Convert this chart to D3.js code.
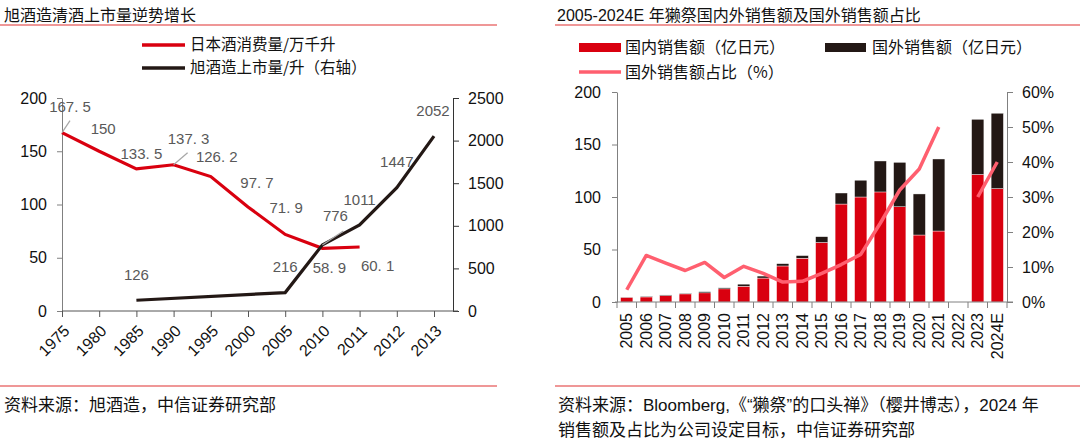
<!DOCTYPE html>
<html>
<head>
<meta charset="utf-8">
<script src="https://cdn.jsdelivr.net/npm/d3@7"></script>
<style>
	body { margin: 0; background: #fff; }
	svg { font-family: "Liberation Sans", "Noto Sans CJK SC", sans-serif; }
	.cjk { font-family: "Noto Sans CJK SC", sans-serif; }
</style>
</head>
<body>
<script>
// Left chart: 旭酒造
var years = ["1975", "1980", "1985", "1990", "1995", "2000", "2005", "2010", "2011", "2012", "2013"];
var consumption = [167.5, 150, 133.5, 137.3, 126.2, 97.7, 71.9, 58.9, 60.1, null, null];   //万千升
var shipments = [null, null, 126, null, null, null, 216, 776, 1011, 1447, 2052];           //升 (right axis)
var leftTicks = [0, 50, 100, 150, 200];
var rightTicks = [0, 500, 1000, 1500, 2000, 2500];

// Right chart: 獭祭
var salesYears = ["2005", "2006", "2007", "2008", "2009", "2010", "2011", "2012", "2013", "2014",
                  "2015", "2016", "2017", "2018", "2019", "2020", "2021", "2022", "2023", "2024E"];
var domestic = [4.5, 4.8, 6.1, 7.7, 8.7, 12.5, 15, 22.8, 34.3, 41.7, 56.7, 93.3, 100, 104.8, 90.7, 63.8, 67.6, null, 121.5, 108];
var overseas = [0.2, 0.7, 0.6, 0.7, 1.1, 1.0, 2.0, 1.9, 2.2, 2.5, 5.5, 10.5, 16, 29.5, 42.3, 39.1, 68.6, null, 52.5, 71.8];
var overseasShare = [3.5, 13.3, 11.1, 9.0, 11.3, 7.0, 10.2, 8.2, 5.7, 5.9, 8.2, 10.7, 13.6, 22.5, 32, 38, 50, null, 30, 40];
var salesTicks = [0, 50, 100, 150, 200];
var shareTicks = [0, 10, 20, 30, 40, 50, 60];

// label nudges (dx, dy from the point)
var consumptionNudge = [[8, -21], [4, -17], [5, -10], [15, -21], [6, -15], [9, -19], [1, -21], [7, 25], [18, 24]];
var shipmentNudge = [[0, -20], [0, -21], [13, -24], [0, -20], [0, -21], [-1, -20]];

// Settings
var w = 1080;
var h = 445;
var red = "#d9000f";
var dark = "#231815";
var pink = "#ff5f6f";
var grey = "#808080";

var svg = d3.select("body")
			.append("svg")
			.attr("width", w)
			.attr("height", h);

// ---------- frame: titles, rules, sources ----------
svg.append("text").attr("class", "cjk").attr("x", 4).attr("y", 15).attr("dy", "0.35em")
	.style("font-size", "16px").attr("fill", "#111").text("旭酒造清酒上市量逆势增长");
svg.append("text").attr("x", 557).attr("y", 15).attr("dy", "0.35em")
	.style("font-size", "16px").attr("fill", "#111").text("2005-2024E 年獭祭国内外销售额及国外销售额占比");

[[0, 497, 25], [555, 1080, 25], [0, 497, 386], [555, 1080, 386]].forEach(function(r) {
	svg.append("line").attr("x1", r[0]).attr("x2", r[1]).attr("y1", r[2]).attr("y2", r[2])
		.attr("stroke", "#e03030").attr("stroke-width", 1.2);
});

svg.append("text").attr("class", "cjk").attr("x", 4).attr("y", 405).attr("dy", "0.35em")
	.style("font-size", "17px").attr("fill", "#111").text("资料来源：旭酒造，中信证券研究部");
svg.append("text").attr("x", 558).attr("y", 405).attr("dy", "0.35em")
	.style("font-size", "17px").attr("fill", "#111").text("资料来源：Bloomberg,《“獭祭”的口头禅》（樱井博志），2024 年");
svg.append("text").attr("class", "cjk").attr("x", 558).attr("y", 430).attr("dy", "0.35em")
	.style("font-size", "17px").attr("fill", "#111").text("销售额及占比为公司设定目标，中信证券研究部");

// ---------- LEFT CHART ----------
var xL = d3.scalePoint().domain(years).range([62, 434]);
var yL = d3.scaleLinear().domain([0, 200]).range([311, 98]);
var yR = d3.scaleLinear().domain([0, 2500]).range([311, 98]);

//Legend
var legL = svg.append("g");
[[red, "日本酒消费量/万千升", 45], [dark, "旭酒造上市量/升（右轴）", 68]].forEach(function(d) {
	legL.append("line").attr("x1", 142).attr("x2", 185).attr("y1", d[2]).attr("y2", d[2])
		.attr("stroke", d[0]).attr("stroke-width", 3.5);
	legL.append("text").attr("class", "cjk").attr("x", 190).attr("y", d[2]).attr("dy", "0.35em")
		.style("font-size", "15.5px").attr("fill", "#111").text(d[1]);
});

//Axes
var axL = svg.append("g").attr("transform", "translate(62,0)")
	.call(d3.axisLeft(yL).tickValues(leftTicks).tickSize(5).tickSizeOuter(0).tickPadding(10));
axL.select(".domain").attr("stroke", grey);
axL.selectAll("line").attr("stroke", grey);
axL.selectAll("text").style("font-size", "16px").attr("fill", "#111");

var axR = svg.append("g").attr("transform", "translate(453,0)")
	.call(d3.axisRight(yR).tickValues(rightTicks).tickSize(6).tickSizeOuter(0).tickPadding(9)
		.tickFormat(d3.format("d")));
axR.select(".domain").attr("stroke", "#333");
axR.selectAll("line").attr("stroke", "#333");
axR.selectAll("text").style("font-size", "16px").attr("fill", "#111");

var axX = svg.append("g").attr("transform", "translate(0,311)")
	.call(d3.axisBottom(xL).tickSize(6).tickSizeOuter(0));
axX.select(".domain").remove();
axX.append("line").attr("x1", xL(years[0])).attr("x2", 458).attr("stroke", "#555");
axX.selectAll(".tick line").attr("stroke", "#555");
axX.selectAll(".tick text")
	.attr("x", 0).attr("y", 0).attr("dy", "0.35em")
	.attr("text-anchor", "end")
	.attr("transform", "translate(4,17) rotate(-45)")
	.style("font-size", "16px").attr("fill", "#111");

//Lines (gaps are bridged, like the source)
var redPts = years.map(function(y, i) { return {year: y, v: consumption[i]}; })
	.filter(function(d) { return d.v !== null; });
var blackPts = years.map(function(y, i) { return {year: y, v: shipments[i]}; })
	.filter(function(d) { return d.v !== null; });

svg.append("path").datum(redPts)
	.attr("fill", "none").attr("stroke", red).attr("stroke-width", 3.2)
	.attr("d", d3.line().x(function(d) { return xL(d.year); }).y(function(d) { return yL(d.v); }));
svg.append("path").datum(blackPts)
	.attr("fill", "none").attr("stroke", dark).attr("stroke-width", 3.2)
	.attr("d", d3.line().x(function(d) { return xL(d.year); }).y(function(d) { return yR(d.v); }));

//Leader lines
var leaders = [
	[xL("1975"), yL(167.5), 8, -12],
	[xL("1990"), yL(137.3), 14, -12],
	[xL("2010"), yR(776), 21, -14]
];
leaders.forEach(function(l) {
	svg.append("line").attr("x1", l[0]).attr("y1", l[1]).attr("x2", l[0] + l[2]).attr("y2", l[1] + l[3])
		.attr("stroke", "#a6a6a6").attr("stroke-width", 1.2);
});

//Data labels
var fmt = function(v) { return String(v).replace(".", ". "); };
svg.selectAll(".lblRed").data(redPts).enter().append("text")
	.attr("x", function(d, i) { return xL(d.year) + consumptionNudge[i][0]; })
	.attr("y", function(d, i) { return yL(d.v) + consumptionNudge[i][1]; })
	.attr("text-anchor", "middle").style("font-size", "15px").attr("fill", "#595959")
	.text(function(d) { return fmt(d.v); });
svg.selectAll(".lblBlack").data(blackPts).enter().append("text")
	.attr("x", function(d, i) { return xL(d.year) + shipmentNudge[i][0]; })
	.attr("y", function(d, i) { return yR(d.v) + shipmentNudge[i][1]; })
	.attr("text-anchor", "middle").style("font-size", "15px").attr("fill", "#595959")
	.text(function(d) { return d.v; });

// ---------- RIGHT CHART ----------
var xB = d3.scaleBand().domain(salesYears).range([617, 1007]).paddingInner(0.37).paddingOuter(0.185);
var yS = d3.scaleLinear().domain([0, 200]).range([302, 92]);
var yP = d3.scaleLinear().domain([0, 60]).range([302, 92]);

//Legend
var legR = svg.append("g");
legR.append("rect").attr("x", 579).attr("y", 43).attr("width", 42).attr("height", 9).attr("fill", red);
legR.append("text").attr("class", "cjk").attr("x", 625).attr("y", 47).attr("dy", "0.35em")
	.style("font-size", "16px").attr("fill", "#111").text("国内销售额（亿日元）");
legR.append("rect").attr("x", 825).attr("y", 43).attr("width", 41).attr("height", 9).attr("fill", dark);
legR.append("text").attr("class", "cjk").attr("x", 872).attr("y", 47).attr("dy", "0.35em")
	.style("font-size", "16px").attr("fill", "#111").text("国外销售额（亿日元）");
legR.append("line").attr("x1", 579).attr("x2", 621).attr("y1", 72).attr("y2", 72)
	.attr("stroke", pink).attr("stroke-width", 3.5);
legR.append("text").attr("class", "cjk").attr("x", 625).attr("y", 72).attr("dy", "0.35em")
	.style("font-size", "16px").attr("fill", "#111").text("国外销售额占比（%）");

//Stacked data
var salesRows = salesYears.map(function(y, i) {
	return {year: y, domestic: domestic[i] || 0, overseas: overseas[i] || 0};
});
var series = d3.stack().keys(["domestic", "overseas"])(salesRows);
var barColor = {domestic: red, overseas: dark};

svg.append("g").selectAll("g")
	.data(series)
	.enter()
	.append("g")
	.attr("fill", function(d) { return barColor[d.key]; })
	.selectAll("rect")
	.data(function(d) { return d; })
	.enter()
	.append("rect")
	.attr("x", function(d) { return xB(d.data.year); })
	.attr("width", xB.bandwidth())
	.attr("y", function(d) { return yS(d[1]); })
	.attr("height", function(d) { return yS(d[0]) - yS(d[1]); })
	.attr("stroke", "#fff").attr("stroke-width", 0.4);

//Share line, broken at 2022
svg.append("path").datum(salesYears)
	.attr("fill", "none").attr("stroke", pink).attr("stroke-width", 3.5).attr("stroke-linejoin", "round")
	.attr("d", d3.line()
		.defined(function(d, i) { return overseasShare[i] !== null; })
		.x(function(d) { return xB(d) + xB.bandwidth() / 2; })
		.y(function(d, i) { return yP(overseasShare[i]); }));

//Axes
var axS = svg.append("g").attr("transform", "translate(617,0)")
	.call(d3.axisLeft(yS).tickValues(salesTicks).tickSize(5).tickSizeOuter(0).tickPadding(11));
axS.select(".domain").attr("stroke", grey);
axS.selectAll("line").attr("stroke", grey);
axS.selectAll("text").style("font-size", "16px").attr("fill", "#111");

var axP = svg.append("g").attr("transform", "translate(1007,0)")
	.call(d3.axisRight(yP).tickValues(shareTicks).tickSize(6).tickSizeOuter(0).tickPadding(9)
		.tickFormat(function(d) { return d + "%"; }));
axP.select(".domain").attr("stroke", grey);
axP.selectAll("line").attr("stroke", grey);
axP.selectAll("text").style("font-size", "16px").attr("fill", "#111");

var axB = svg.append("g").attr("transform", "translate(0,302)")
	.call(d3.axisBottom(xB).tickSize(0).tickSizeOuter(0));
axB.select(".domain").remove();
axB.append("line").attr("x1", 615).attr("x2", 1013).attr("stroke", grey);
axB.selectAll(".tick text")
	.attr("x", 0).attr("y", 0).attr("dy", "0.35em")
	.attr("text-anchor", "end")
	.attr("transform", "translate(0,11) rotate(-90)")
	.style("font-size", "16px").attr("fill", "#111");
//ticks sit between the bars
axB.selectAll(".edge")
	.data(d3.range(salesYears.length + 1))
	.enter()
	.append("line")
	.attr("x1", function(i) { return xB.range()[0] + i * xB.step(); })
	.attr("x2", function(i) { return xB.range()[0] + i * xB.step(); })
	.attr("y1", 0).attr("y2", 6)
	.attr("stroke", grey);
</script>
</body>
</html>
